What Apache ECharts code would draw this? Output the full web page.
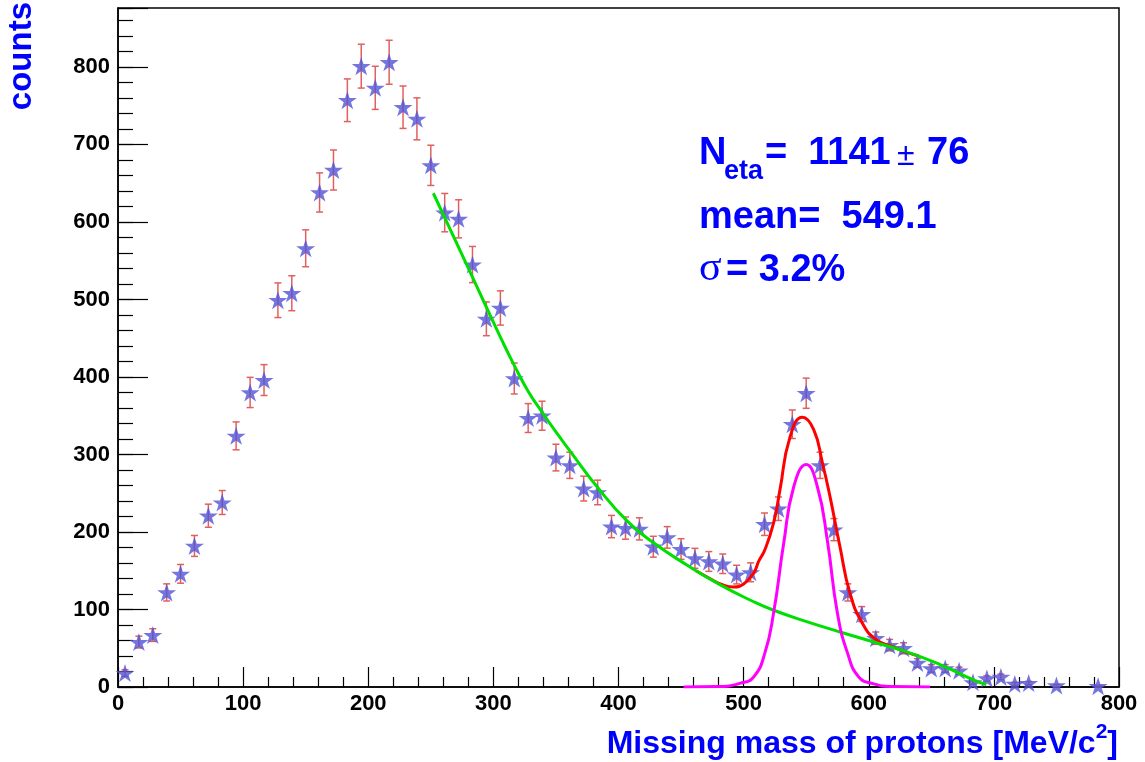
<!DOCTYPE html>
<html>
<head>
<meta charset="utf-8">
<title>Missing mass of protons</title>
<script src="https://cdn.jsdelivr.net/npm/echarts@6/dist/echarts.min.js"></script>
<style>
  html, body { margin: 0; padding: 0; background: #fff; }
  #main { width: 1145px; height: 762px; }
</style>
</head>
<body>
<div id="main"></div>
<script>
// histogram: 72 bins between 0 and 800 MeV/c2, bin centres
var binCenters = [5.6, 16.7, 27.8, 38.9, 50.0, 61.1, 72.2, 83.3, 94.4, 105.6, 116.7, 127.8,
  138.9, 150.0, 161.1, 172.2, 183.3, 194.4, 205.6, 216.7, 227.8, 238.9, 250.0, 261.1,
  272.2, 283.3, 294.4, 305.6, 316.7, 327.8, 338.9, 350.0, 361.1, 372.2, 383.3, 394.4,
  405.6, 416.7, 427.8, 438.9, 450.0, 461.1, 472.2, 483.3, 494.4, 505.6, 516.7, 527.8,
  538.9, 550.0, 561.1, 572.2, 583.3, 594.4, 605.6, 616.7, 627.8, 638.9, 650.0, 661.1,
  672.2, 683.3, 694.4, 705.6, 716.7, 727.8, 738.9, 750.0, 761.1, 772.2, 783.3, 794.4];
var counts = [18, 58, 67, 122, 146, 182, 221, 238, 324, 380, 396, 499,
  508, 566, 638, 667, 757, 801, 773, 806, 748, 733, 673, 612,
  604, 545, 475, 489, 398, 347, 350, 296, 286, 256, 251, 207,
  205, 204, 181, 193, 178, 166, 162, 159, 145, 148, 210, 230,
  339, 379, 286, 203, 122, 94, 63, 54, 50, 31, 24, 24,
  21, 6, 11, 13, 4, 5, 0, 2, 0, 0, 1, 0];

// fitted curves
var bgX = [252, 274, 295, 306, 317, 328, 340, 350, 361, 383, 407, 428, 455, 481, 508, 524, 551, 577, 604, 631, 657, 684, 694];
var bgY = [637, 561, 488, 450, 414, 381, 352, 329, 305, 258, 214, 186, 157, 132, 110, 99, 84, 71, 58, 45, 29, 9, 3];

var totX = [462, 473, 483, 492, 500, 508, 512, 517, 524, 529, 537, 547, 556, 563, 569, 577, 585, 595, 606, 619, 630, 640];
var totY = [150, 140, 132, 129, 133, 147, 162, 177, 212, 254, 322, 348, 332, 289, 246, 181, 121, 82, 61, 52, 45, 40];

var sigX = [452, 480, 497, 508, 517, 524, 532, 540, 550, 559, 567, 575, 583, 592, 604, 620, 649];
var sigY = [0, 0.5, 4.7, 13, 44, 96, 185, 258, 287, 258, 188, 95, 44, 13, 4, 0.5, 0];

var starPath = 'path://M50,0L61.2,34.5L97.6,34.5L68.2,55.9L79.4,90.5L50,69.1L20.6,90.5L31.8,55.9L2.4,34.5L38.8,34.5Z';
var font = '"Liberation Sans", Arial, Helvetica, sans-serif';
var blue = '#0000ff';

var points = [], errors = [];
for (var i = 0; i < counts.length; i++) {
  if (counts[i] <= 0) continue;
  var e = Math.sqrt(counts[i]);
  points.push([binCenters[i], counts[i]]);
  errors.push([binCenters[i], counts[i] - e, counts[i] + e]);
}

function pairs(xs, ys) {
  return xs.map(function (x, i) { return [x, ys[i]]; });
}

function renderError(params, api) {
  var x = api.value(0);
  var top = api.coord([x, api.value(2)]);
  var bot = api.coord([x, api.value(1)]);
  var hw = 3.5;
  var st = { stroke: '#e06060', lineWidth: 1.5 };
  return {
    type: 'group',
    children: [
      { type: 'line', shape: { x1: top[0], y1: top[1], x2: bot[0], y2: bot[1] }, style: st },
      { type: 'line', shape: { x1: top[0] - hw, y1: top[1], x2: top[0] + hw, y2: top[1] }, style: st },
      { type: 'line', shape: { x1: bot[0] - hw, y1: bot[1], x2: bot[0] + hw, y2: bot[1] }, style: st }
    ]
  };
}

var chart = echarts.init(document.getElementById('main'));
var option = {
  animation: false,
  grid: { left: 118, right: 26, top: 8, bottom: 75, show: true, borderColor: '#000', borderWidth: 1.5 },
  xAxis: {
    type: 'value', min: 0, max: 800, interval: 100,
    axisLine: { show: true, lineStyle: { color: '#000', width: 1.5 } },
    axisTick: { inside: true, length: 20, lineStyle: { color: '#000', width: 1.2 } },
    minorTick: { show: true, splitNumber: 5, length: 10, lineStyle: { color: '#000', width: 1.2 } },
    axisLabel: { color: '#000', fontWeight: 'bold', fontSize: 22, fontFamily: font, margin: 6 },
    splitLine: { show: false }
  },
  yAxis: [{
    type: 'value', position: 'left', min: 0, max: 876, interval: 100,
    axisLine: { show: true, lineStyle: { color: '#000', width: 1.5 } },
    axisTick: { inside: true, length: 30, lineStyle: { color: '#000', width: 1.2 } },
    axisLabel: {
      color: '#000', fontWeight: 'bold', fontSize: 22, fontFamily: font, margin: 8,
      formatter: function (v) { return v % 100 === 0 ? String(v) : ''; }
    },
    splitLine: { show: false }
  }, {
    type: 'value', position: 'left', offset: 0, min: 0, max: 876, interval: 20,
    axisLine: { show: false },
    axisTick: { inside: true, length: 15, lineStyle: { color: '#000', width: 1.2 } },
    axisLabel: { show: false },
    splitLine: { show: false }
  }],
  series: [
    { type: 'custom', renderItem: renderError, data: errors, z: 2 },
    {
      type: 'scatter', data: points, symbol: starPath, symbolSize: [19, 18],
      itemStyle: { color: '#5252d6' }, z: 3
    },
    {
      type: 'line', data: pairs(totX, totY), smooth: true, showSymbol: false,
      lineStyle: { color: '#ff0000', width: 3 }, z: 4
    },
    {
      type: 'line', data: pairs(bgX, bgY), smooth: true, showSymbol: false,
      lineStyle: { color: '#00e000', width: 3 }, z: 5
    },
    {
      type: 'line', data: pairs(sigX, sigY), smooth: true, showSymbol: false,
      lineStyle: { color: '#ff00ff', width: 3 }, z: 6
    }
  ],
  graphic: [
    // axis titles
    {
      type: 'text', x: 22, y: 2, rotation: Math.PI / 2,
      style: { text: 'counts', font: 'bold 33px ' + font, fill: blue, align: 'right', verticalAlign: 'middle' }
    },
    {
      type: 'text', x: 1118, y: 744,
      style: {
        text: '{m|Missing mass of protons [MeV/c}{sup|2}{m|]}',
        align: 'right', verticalAlign: 'middle',
        rich: {
          m: { font: 'bold 32px ' + font, fill: blue, lineHeight: 44 },
          sup: { font: 'bold 21px ' + font, fill: blue, lineHeight: 20, verticalAlign: 'top' }
        }
      }
    },
    // fit results
    { type: 'text', x: 699, y: 154, style: { text: 'N', font: 'bold 38px ' + font, fill: blue, verticalAlign: 'middle' } },
    { type: 'text', x: 724, y: 172, style: { text: 'eta', font: 'bold 27px ' + font, fill: blue, verticalAlign: 'middle' } },
    { type: 'text', x: 765, y: 154, style: { text: '=  1141', font: 'bold 38px ' + font, fill: blue, verticalAlign: 'middle' } },
    { type: 'text', x: 897, y: 156, style: { text: '±', font: '32px ' + font, fill: blue, verticalAlign: 'middle' } },
    { type: 'text', x: 927, y: 154, style: { text: '76', font: 'bold 38px ' + font, fill: blue, verticalAlign: 'middle' } },
    { type: 'text', x: 699, y: 217.5, style: { text: 'mean=  549.1', font: 'bold 38px ' + font, fill: blue, verticalAlign: 'middle' } },
    { type: 'text', x: 699, y: 269, style: { text: 'σ', font: '42px "Liberation Serif", "Times New Roman", serif', fill: blue, verticalAlign: 'middle' } },
    { type: 'text', x: 726, y: 271, style: { text: '= 3.2%', font: 'bold 38px ' + font, fill: blue, verticalAlign: 'middle' } }
  ]
};
chart.setOption(option);
</script>
</body>
</html>
